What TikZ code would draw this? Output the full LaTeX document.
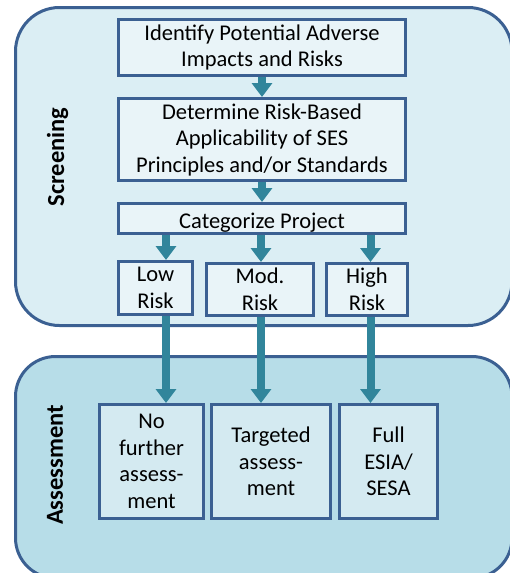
\documentclass[tikz,border=0pt]{standalone}
\usepackage{fontspec}
\setmainfont{Carlito}
\usetikzlibrary{positioning}
\usetikzlibrary{arrows.meta}
\definecolor{rimblue}{RGB}{59,96,146}
\definecolor{flowteal}{RGB}{49,133,155}
\definecolor{screenfill}{RGB}{219,238,244}
\definecolor{assessfill}{RGB}{183,221,232}
\definecolor{taskfill}{RGB}{233,244,248}
\definecolor{outfill}{RGB}{212,234,241}
\newcommand{\Lbox}{\fontsize{22.5}{26.5}\selectfont}
\newcommand{\Lstage}{\fontsize{24.5}{24.5}\selectfont\bfseries}
\tikzstyle{stage} = [draw=rimblue, line width=3pt, rounded corners=44pt]
\tikzstyle{task} = [rectangle, draw=rimblue, fill=taskfill, line width=3pt, outer sep=0pt, inner sep=1pt, align=center, font=\Lbox, execute at begin node={\rule{0pt}{23pt}}]
\tikzstyle{flow} = [draw=flowteal, line width=8pt, -{Triangle[width=20pt,length=14pt]}, shorten >=1.5pt, shorten <=1.5pt]

\begin{document}
\begin{tikzpicture}[x=1pt, y=-1pt]
\useasboundingbox (0,0) rectangle (510,573);

% Panels
\draw[stage, fill=screenfill] (15.5,7.5) rectangle (512,325.5);
\draw[stage, fill=assessfill, rounded corners=40pt] (15.5,356.5) rectangle (512,578);

\node[rotate=90, font=\Lstage] (scr) at (57.5,157) {Screening};
\node[rotate=90, font=\Lstage] (ass) at (55,465) {Assessment};

% Define nodes
\node[task, minimum width=287pt, minimum height=56pt] (id) at (262,47.5) {Identify Potential Adverse\\Impacts and Risks};
\node[task, minimum width=287pt, minimum height=82pt, below = 23pt of id] (det) {Determine Risk-Based\\Applicability of SES\\Principles and/or Standards};
\node[task, minimum width=287pt, minimum height=30pt, below = 23pt of det] (cat) {Categorize Project};

\node[task, minimum width=74pt, minimum height=53pt]  (lo) at (155.5,288)  {Low\\Risk};
\node[task, minimum width=107pt, minimum height=52pt] (mo) at (260,289.5)  {Mod.\\Risk};
\node[task, minimum width=81pt, minimum height=52pt]  (hi) at (367,289.5)  {High\\Risk};

\node[task, fill=outfill, minimum width=104pt, minimum height=114pt] (nf) at (151.5,461.5) {No\\further\\assess-\\ment};
\node[task, fill=outfill, minimum width=119pt, minimum height=114pt] (ta) at (271,461.5)   {Targeted\\assess-\\ment};
\node[task, fill=outfill, minimum width=98pt, minimum height=114pt]  (fu) at (388.5,461.5) {Full\\ESIA/\\SESA};

% lanes of the arrows
\coordinate (l1) at (166,0);
\coordinate (l2) at (261,0);
\coordinate (l3) at (370.5,0);

% Edges
\draw[flow] (id) -- (det);
\draw[flow] (det) -- (cat);
\draw[flow] (cat.south -| l1) -- (lo.north -| l1);
\draw[flow] (cat.south -| l2) -- (mo.north -| l2);
\draw[flow] (cat.south -| l3) -- (hi.north -| l3);
\draw[flow] (lo.south -| l1) -- (nf.north -| l1);
\draw[flow] (mo.south -| l2) -- (ta.north -| l2);
\draw[flow] (hi.south -| l3) -- (fu.north -| l3);
\end{tikzpicture}
\end{document}
